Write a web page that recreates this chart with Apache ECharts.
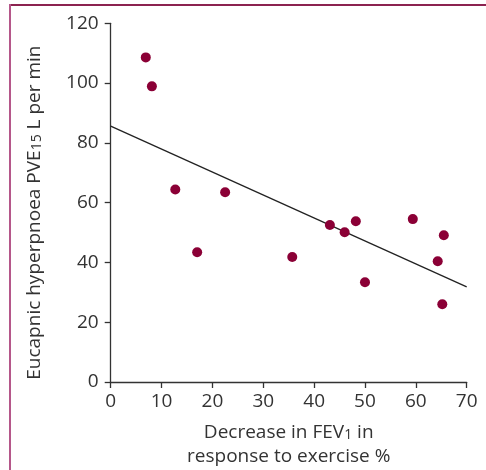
<!DOCTYPE html>
<html>
<head>
<meta charset="utf-8">
<script src="https://cdn.jsdelivr.net/npm/echarts@6/dist/echarts.min.js"></script>
<style>html,body{margin:0;padding:0;background:#fff;}#c{width:486px;height:470px;}</style>
</head>
<body>
<div id="c"></div>
<script>
// Data
var fevDecrease = [6.9, 8.1, 12.7, 17.0, 22.5, 35.7, 43.1, 46.0, 48.2, 50.0, 59.4, 65.5, 64.3, 65.2];
var pve15 = [108.6, 98.9, 64.4, 43.4, 63.5, 41.8, 52.5, 50.1, 53.8, 33.4, 54.5, 49.1, 40.4, 26.0];
var fitX = [0, 70];
var fitY = [85.6, 31.8];
var xTicks = [0, 10, 20, 30, 40, 50, 60, 70];
var yTicks = [0, 20, 40, 60, 80, 100, 120];

var FONT = '"Open Sans", sans-serif';
var points = fevDecrease.map(function (x, i) { return [x, pve15[i]]; });
var fitLine = fitX.map(function (x, i) { return [x, fitY[i]]; });

var subStyle = {fontSize: 14, fontFamily: FONT, color: '#333', lineHeight: 14, verticalAlign: 'bottom', padding: [0, 0, 3, 0]};

var chart = echarts.init(document.getElementById('c'), null, {renderer: 'canvas'});
chart.setOption({
  animation: false,
  backgroundColor: '#fff',
  grid: {left: 110.7, right: 19.3, top: 23.3, bottom: 88, containLabel: false, outerBoundsMode: 'none'},
  graphic: [
    {type: 'line', shape: {x1: 10, y1: 5, x2: 486, y2: 5}, style: {stroke: '#8c2350', lineWidth: 2}},
    {type: 'line', shape: {x1: 10, y1: 4, x2: 10, y2: 470}, style: {stroke: '#b5578a', lineWidth: 2}}
  ],
  xAxis: {
    type: 'value', min: xTicks[0], max: xTicks[xTicks.length - 1], interval: 10,
    splitLine: {show: false},
    axisLine: {lineStyle: {color: '#333', width: 1.3}},
    axisTick: {show: true, length: 6, lineStyle: {color: '#333', width: 1.3}},
    axisLabel: {color: '#333', fontSize: 19, fontFamily: FONT, margin: 10},
    name: '{a|Decrease in FEV}{s|1}{a| in}\n{a|response to exercise %}',
    nameLocation: 'middle', nameGap: 39,
    nameTextStyle: {
      rich: {
        a: {fontSize: 19, fontFamily: FONT, color: '#333', lineHeight: 24},
        s: subStyle
      }
    }
  },
  yAxis: {
    type: 'value', min: yTicks[0], max: yTicks[yTicks.length - 1], interval: 20,
    splitLine: {show: false},
    axisLine: {show: true, lineStyle: {color: '#333', width: 1.3}},
    axisTick: {show: true, length: 6, lineStyle: {color: '#333', width: 1.3}},
    axisLabel: {color: '#333', fontSize: 19, fontFamily: FONT, margin: 12},
    name: '{a|Eucapnic hyperpnoea PVE}{s|15}{a| L per min}',
    nameLocation: 'middle', nameGap: 64, nameRotate: 90,
    nameTextStyle: {
      padding: [0, 20, 0, 0],
      rich: {
        a: {fontSize: 19, fontFamily: FONT, color: '#333', lineHeight: 24},
        s: subStyle
      }
    }
  },
  series: [
    {
      type: 'line', data: fitLine, symbol: 'none', silent: true,
      lineStyle: {color: '#222', width: 1.3}, z: 2
    },
    {
      type: 'scatter', data: points, symbol: 'circle', symbolSize: 10,
      itemStyle: {color: '#8b0036', opacity: 1}, z: 3
    }
  ]
});
</script>
</body>
</html>
